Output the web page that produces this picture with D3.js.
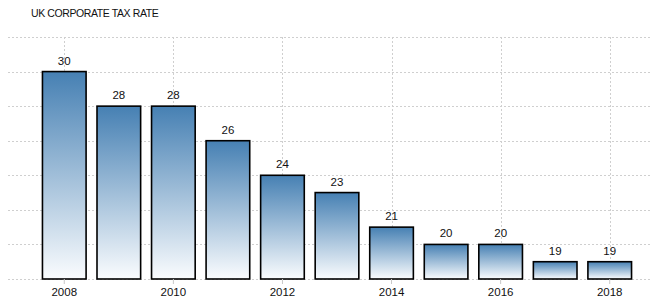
<!DOCTYPE html>
<html>
<head>
<meta charset="utf-8">
<script src="https://cdn.jsdelivr.net/npm/d3@7"></script>
<style>
    body { margin: 0; background: #fff; }
    svg { display: block; }
</style>
</head>
<body>
<div id="chart"></div>
<script>
const years = [2008, 2009, 2010, 2011, 2012, 2013, 2014, 2015, 2016, 2017, 2018];
const taxRate = [30, 28, 28, 26, 24, 23, 21, 20, 20, 19, 19];
const yearTicks = [2008, 2010, 2012, 2014, 2016, 2018];
const rateTicks = [18, 20, 22, 24, 26, 28, 30, 32];

const width = 653;
const height = 307;
const font = '"Liberation Sans", Arial, sans-serif';

const svg = d3.select('#chart')
    .append('svg')
    .attr('width', width)
    .attr('height', height);

const x = d3.scaleBand()
    .domain(years)
    .range([37, 637])
    .paddingInner(0.2)
    .paddingOuter(0.1);

const y = d3.scaleLinear()
    .domain([18, 32])
    .range([279, 37]);

// gradient for bars
const grad = svg.append('defs')
    .append('linearGradient')
    .attr('id', 'barGrad')
    .attr('x1', 0).attr('y1', 0)
    .attr('x2', 0).attr('y2', 1);
grad.append('stop').attr('offset', '0%').attr('stop-color', '#4680b3');
grad.append('stop').attr('offset', '100%').attr('stop-color', '#fafcfe');

svg.append('text')
    .attr('x', 31)
    .attr('y', 17)
    .attr('font-family', font)
    .attr('font-size', 10.5)
    .attr('letter-spacing', -0.4)
    .attr('fill', '#111')
    .text('UK CORPORATE TAX RATE');

// horizontal grid
svg.append('g')
    .selectAll('line')
    .data(rateTicks)
    .join('line')
    .attr('x1', 8)
    .attr('x2', 652)
    .attr('y1', d => Math.round(y(d)) + 0.5)
    .attr('y2', d => Math.round(y(d)) + 0.5)
    .attr('stroke', '#cfcfcf')
    .attr('stroke-dasharray', '2,2');

// vertical grid
const center = d => x(d) + x.bandwidth() / 2;
svg.append('g')
    .selectAll('line')
    .data(yearTicks)
    .join('line')
    .attr('x1', d => Math.round(center(d)) + 0.5)
    .attr('x2', d => Math.round(center(d)) + 0.5)
    .attr('y1', y(32))
    .attr('y2', y(18))
    .attr('stroke', '#cfcfcf')
    .attr('stroke-dasharray', '2,2');

// bars
svg.append('g')
    .selectAll('rect')
    .data(years)
    .join('rect')
    .attr('x', d => x(d))
    .attr('y', (d, i) => y(taxRate[i]))
    .attr('width', x.bandwidth())
    .attr('height', (d, i) => y(18) - y(taxRate[i]))
    .attr('fill', 'url(#barGrad)')
    .attr('stroke', '#000')
    .attr('stroke-width', 1.6);

// value labels
svg.append('g')
    .selectAll('text')
    .data(years)
    .join('text')
    .attr('x', d => center(d))
    .attr('y', (d, i) => y(taxRate[i]) - 7)
    .attr('text-anchor', 'middle')
    .attr('font-family', font)
    .attr('font-size', 11.5)
    .attr('fill', '#111')
    .text((d, i) => taxRate[i]);

// x axis ticks and labels
const xAxis = svg.append('g')
    .attr('transform', `translate(0,${y(18)})`)
    .call(d3.axisBottom(x).tickValues(yearTicks).tickSize(5).tickPadding(4));
xAxis.select('.domain').remove();
xAxis.selectAll('.tick line').attr('stroke', '#c8c8c8');
xAxis.selectAll('.tick text')
    .attr('font-family', font)
    .attr('font-size', 11.5)
    .attr('fill', '#111');
</script>
</body>
</html>
